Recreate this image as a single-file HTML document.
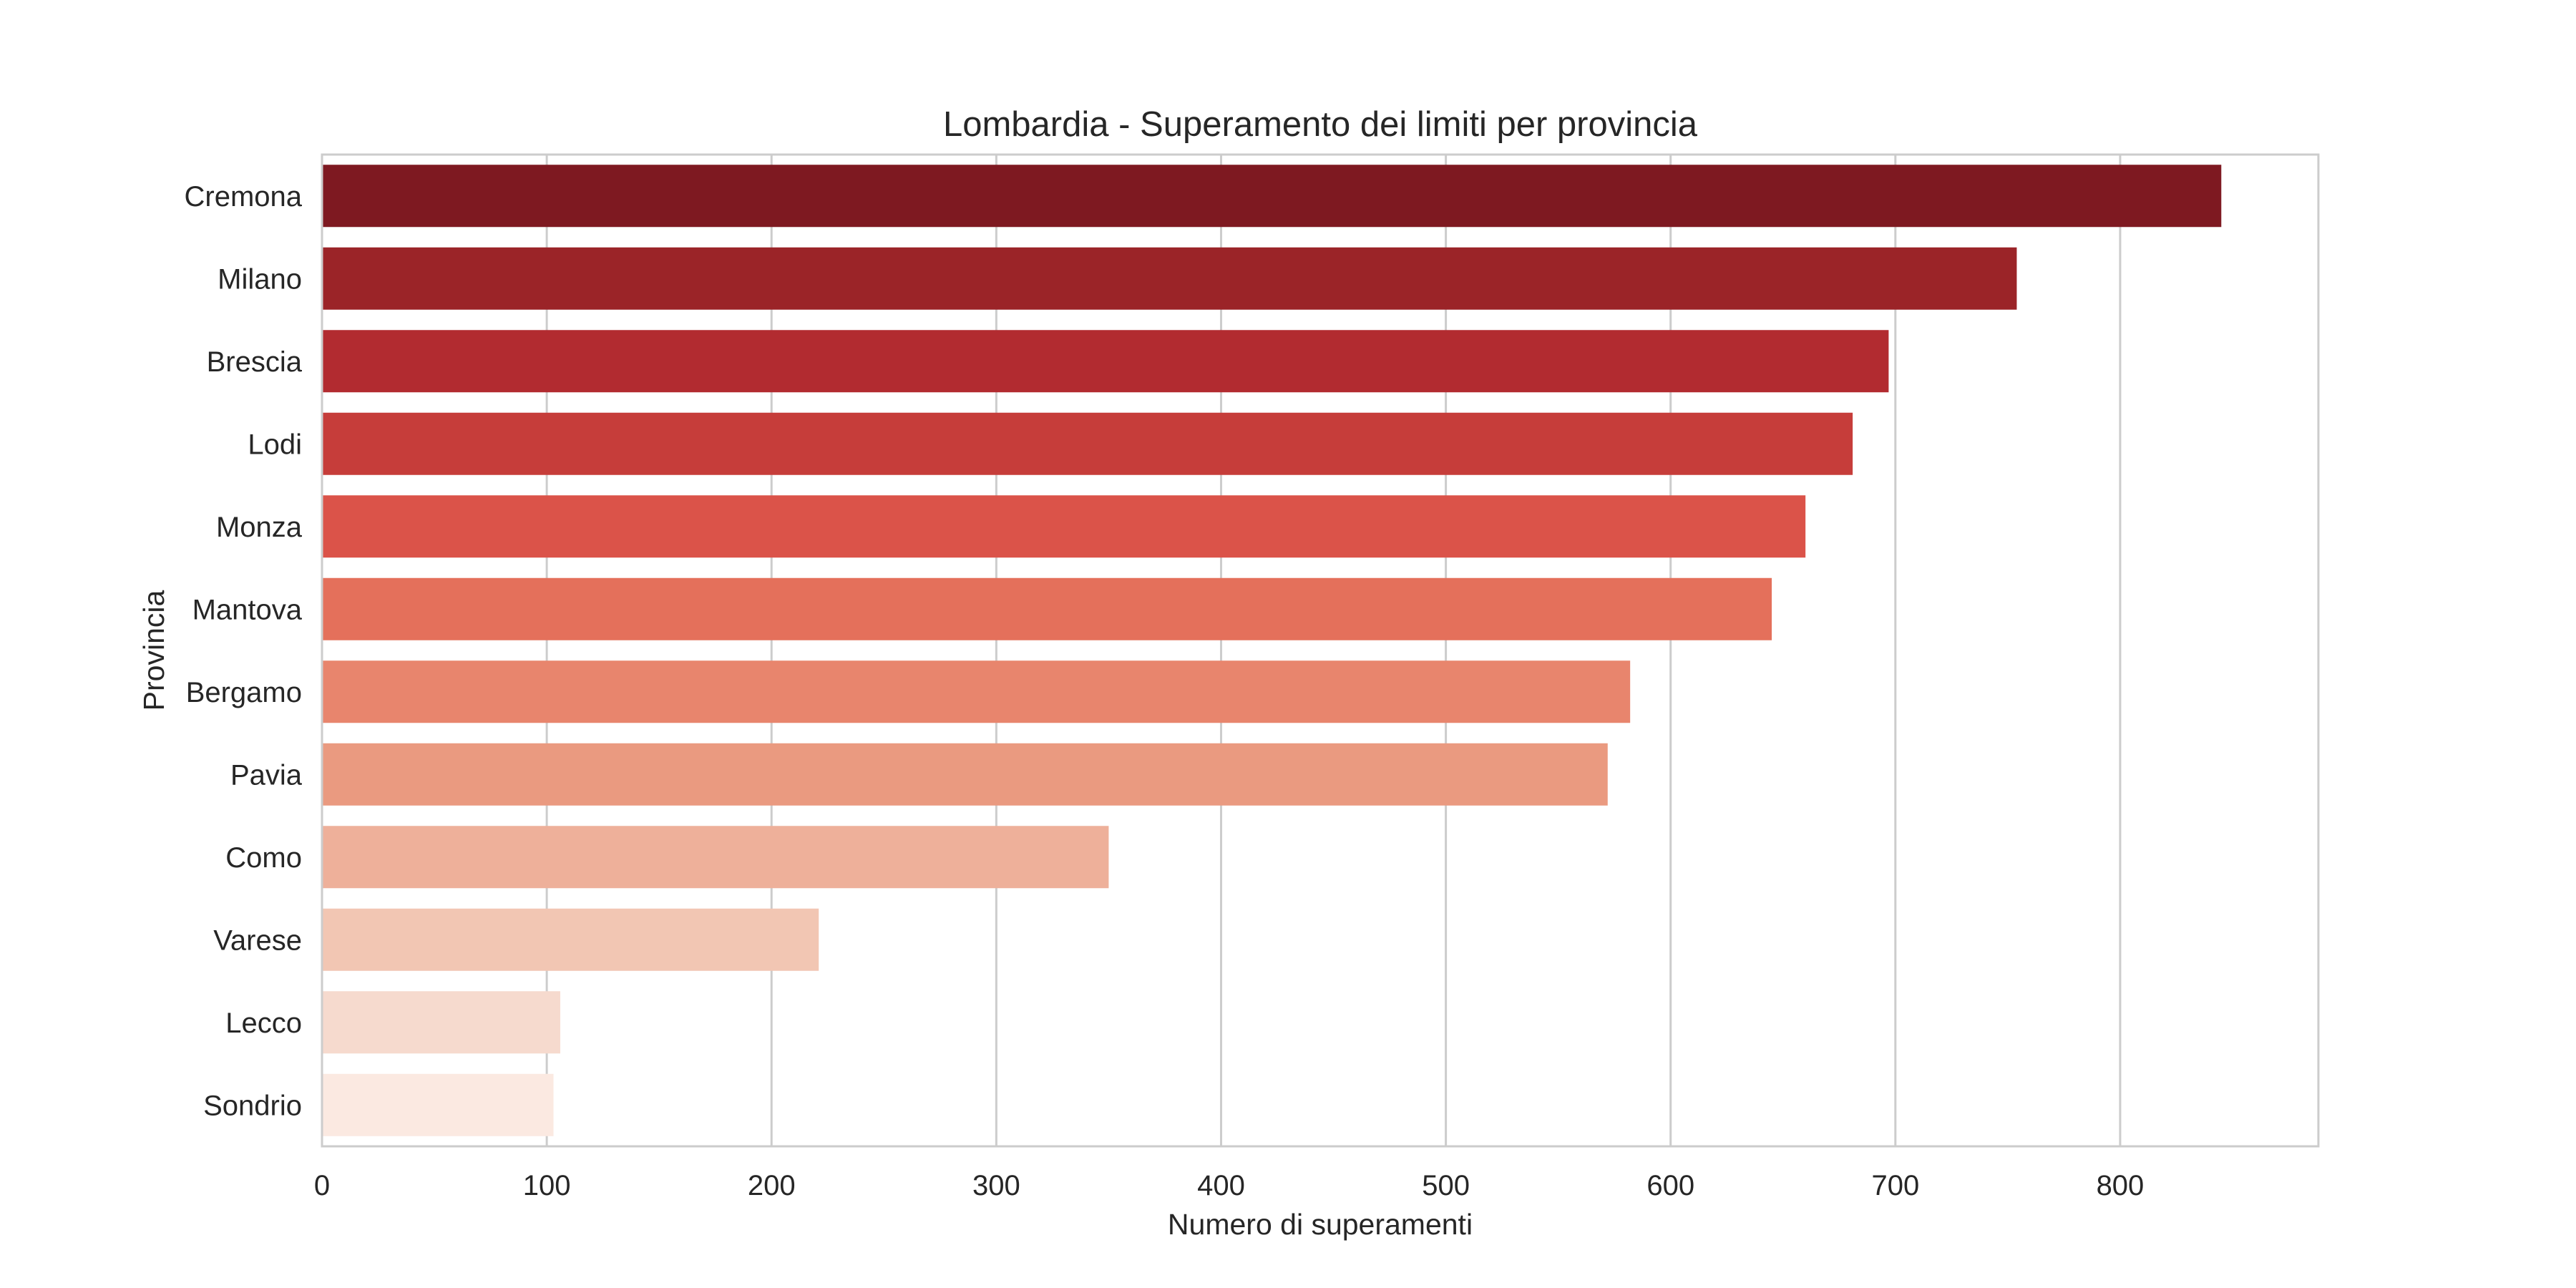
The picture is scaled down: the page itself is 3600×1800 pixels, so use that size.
<!DOCTYPE html>
<html><head><meta charset="utf-8"><style>
html,body{margin:0;padding:0;background:#fff;}
svg{display:block;font-family:"Liberation Sans",Arial,sans-serif;}
</style></head><body>
<svg id="chart" width="3600" height="1800" viewBox="0 0 3600 1800" xmlns="http://www.w3.org/2000/svg">
<rect width="3600" height="1800" fill="#fff"/>
<g id="grid"></g><g id="bars"></g><g id="axes"></g>
</svg>
<script>
const categories=["Cremona","Milano","Brescia","Lodi","Monza","Mantova","Bergamo","Pavia","Como","Varese","Lecco","Sondrio"];
const values=[845,754,697,681,660,645,582,572,350,221,106,103];
const colors=["#7e1921","#9b2428","#b22b30","#c63d3a","#db5349","#e4705b","#e8856d","#ea9a80","#eeb09a","#f2c6b3","#f6dace","#fbe9e1"];
const xTicks=[0,100,200,300,400,500,600,700,800];
const L=450,R=3240,T=216,B=1602,XMAX=888.2;
const ns="http://www.w3.org/2000/svg";
function x(v){return L+v/XMAX*(R-L);}
const pitch=(B-T)/categories.length;
function yc(i){return T+pitch*(i+0.5);}
function mk(tag,attrs,parent,text){const e=document.createElementNS(ns,tag);for(const k in attrs)e.setAttribute(k,attrs[k]);if(text!==undefined)e.textContent=text;document.getElementById(parent).appendChild(e);return e;}
xTicks.forEach(t=>{
  const g=mk('line',{x1:x(t),x2:x(t),y1:T,y2:B,stroke:'#cccccc','stroke-width':3},'grid');
  
  
  const l=mk('text',{x:x(t),y:1670,'font-size':40,fill:'#262626','text-anchor':'middle'},'axes',String(t));
  
  
});
const bh=87;
categories.forEach((c,i)=>{
  const r=mk('rect',{x:L,y:yc(i)-bh/2,width:x(values[i])-L,height:bh,fill:colors[i]},'bars');
  
  
  const t=mk('text',{x:422,y:yc(i)+14,'font-size':40,fill:'#262626','text-anchor':'end'},'axes',c);
  
  
});
const f=mk('rect',{x:L,y:T,width:R-L,height:B-T,fill:'none',stroke:'#cccccc','stroke-width':3},'axes');


const ti=mk('text',{x:(L+R)/2,y:190,'font-size':49,fill:'#262626','text-anchor':'middle'},'axes','Lombardia - Superamento dei limiti per provincia');


const xl=mk('text',{x:(L+R)/2,y:1725,'font-size':41,fill:'#262626','text-anchor':'middle'},'axes','Numero di superamenti');


const yl=mk('text',{x:0,y:0,'font-size':41,fill:'#262626','text-anchor':'middle',transform:'translate(229,'+((T+B)/2)+') rotate(-90)'},'axes','Provincia');


</script>
</body></html>
